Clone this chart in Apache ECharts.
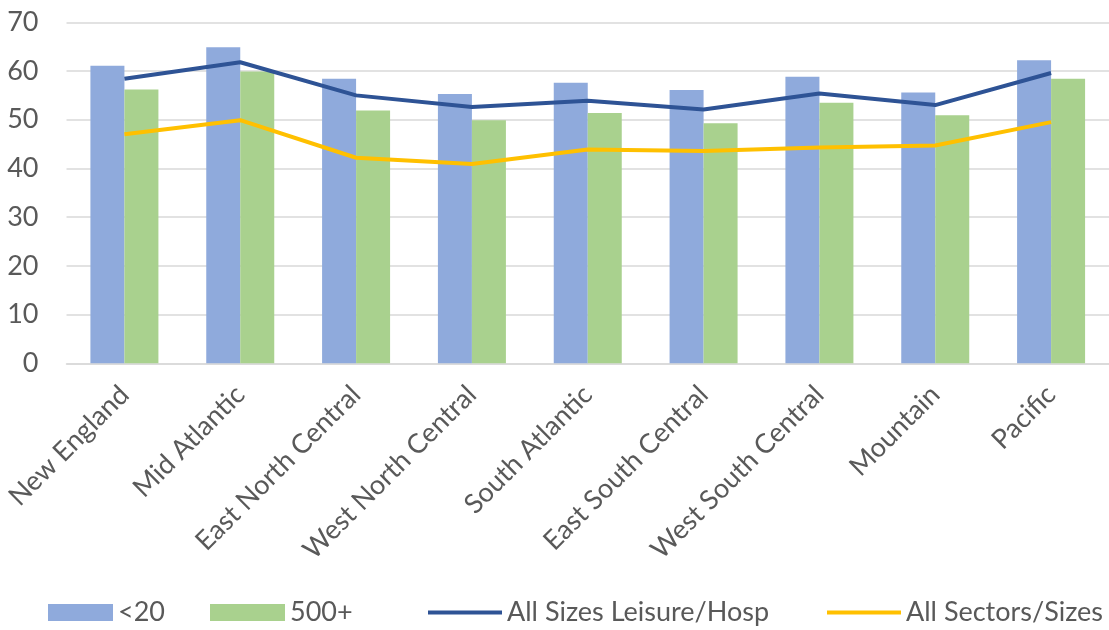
<!DOCTYPE html>
<html>
<head>
<meta charset="utf-8">
<script src="https://cdn.jsdelivr.net/npm/echarts@6/dist/echarts.min.js"></script>
<style>
  html, body { margin: 0; padding: 0; background: #ffffff; }
  #chart { width: 1109px; height: 630px; }
</style>
</head>
<body>
<div id="chart"></div>
<script>
// Census divisions along the x axis
const regions = [
  'New England', 'Mid Atlantic', 'East North Central', 'West North Central',
  'South Atlantic', 'East South Central', 'West South Central', 'Mountain', 'Pacific'
];

// Firm size <20 (bars)
const small = [61.1, 64.9, 58.4, 55.3, 57.6, 56.1, 58.8, 55.6, 62.2];
// Firm size 500+ (bars)
const large = [56.2, 59.9, 51.9, 49.9, 51.4, 49.3, 53.5, 50.9, 58.4];
// All sizes, leisure/hospitality (line)
const leisureAll = [58.4, 61.8, 55.0, 52.6, 53.9, 52.1, 55.4, 53.0, 59.6];
// All sectors, all sizes (line)
const sectorsAll = [47.0, 49.9, 42.2, 40.9, 43.9, 43.6, 44.3, 44.7, 49.5];

const seriesNames = ['<20', '500+', 'All Sizes Leisure/Hosp', 'All Sectors/Sizes'];

const FONT = 'Lato';
const TEXT = '#595959';
const FS = 27;

const chart = echarts.init(document.getElementById('chart'), null, { renderer: 'canvas' });

// One legend block per series so each entry sits at its own x position
function legendFor(name, left, w, h) {
  return {
    data: [name],
    left: left,
    top: 599,
    height: 24,
    icon: 'rect',
    itemWidth: w,
    itemHeight: h,
    itemGap: 0,
    padding: 0,
    textStyle: { fontFamily: FONT, fontSize: FS, color: TEXT, lineHeight: 24 },
    selectedMode: false
  };
}

chart.setOption({
  animation: false,
  backgroundColor: '#ffffff',
  grid: { left: 66.5, top: 22.3, width: 1053, height: 341, containLabel: false },
  legend: [
    legendFor(seriesNames[0], 48, 65, 17),
    legendFor(seriesNames[1], 210, 75, 17),
    legendFor(seriesNames[2], 428, 74, 4),
    legendFor(seriesNames[3], 827, 74, 4)
  ],
  xAxis: {
    type: 'category',
    data: regions,
    boundaryGap: true,
    axisLine: { show: true, lineStyle: { color: '#d9d9d9', width: 1.5 } },
    axisTick: { show: false },
    axisLabel: {
      rotate: 45,
      margin: 27,
      interval: 0,
      fontFamily: FONT,
      fontSize: FS,
      color: TEXT
    }
  },
  yAxis: {
    type: 'value',
    min: 0,
    max: 70,
    interval: 10,
    axisLine: { show: false },
    axisTick: { show: false },
    splitLine: { lineStyle: { color: '#d9d9d9', width: 1.5 } },
    axisLabel: { margin: 28, fontFamily: FONT, fontSize: FS, color: TEXT }
  },
  series: [
    {
      name: seriesNames[0], type: 'bar', data: small,
      barWidth: 34, barGap: '0%',
      itemStyle: { color: '#8FAADC' }
    },
    {
      name: seriesNames[1], type: 'bar', data: large,
      barWidth: 34, barGap: '0%',
      itemStyle: { color: '#A9D18E' }
    },
    {
      name: seriesNames[2], type: 'line', data: leisureAll,
      symbol: 'none', smooth: false,
      lineStyle: { color: '#2E5395', width: 4 },
      itemStyle: { color: '#2E5395' }
    },
    {
      name: seriesNames[3], type: 'line', data: sectorsAll,
      symbol: 'none', smooth: false,
      lineStyle: { color: '#FFC000', width: 4 },
      itemStyle: { color: '#FFC000' }
    }
  ]
});
</script>
</body>
</html>
